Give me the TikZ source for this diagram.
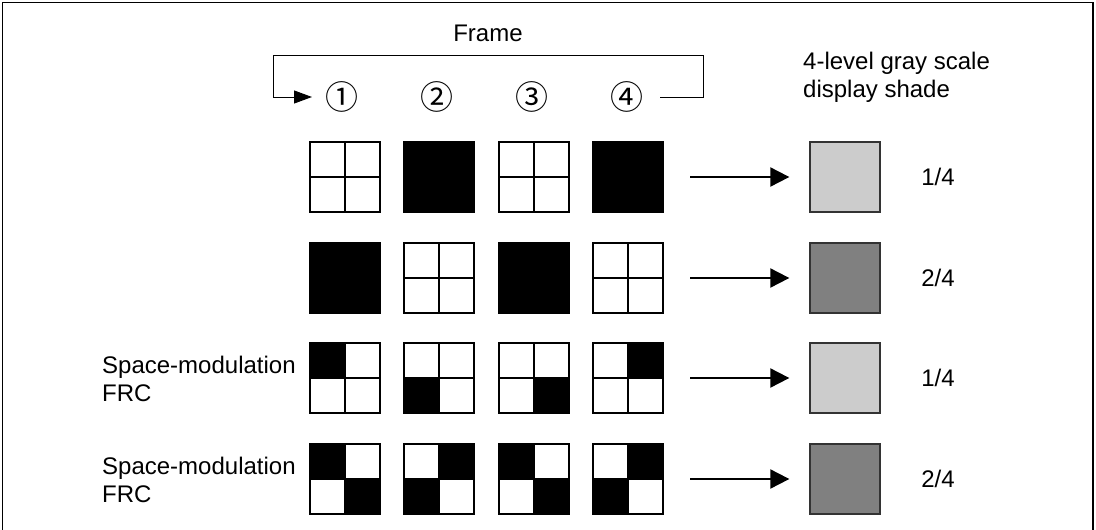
\documentclass[tikz,border=0pt]{standalone}
\usepackage{fontspec}
\setmainfont{Liberation Sans}
\newfontfamily\circfont{Noto Sans CJK JP}
\usetikzlibrary{arrows.meta}

\tikzset{
  sqline/.style={line width=1.5pt,draw=black},
  shade/.style={draw=black!80,line width=1.3pt,minimum size=70pt,inner sep=0pt},
  txt/.style={inner sep=0pt,align=left},
  toshade/.style={line width=2pt,-{Triangle[length=19pt,width=19pt]}}
}
% one 2x2 pixel block: top-left x,y and the fills TL TR BL BR (1 = black)
\newcommand{\pixblock}[6]{%
  \foreach \q/\dx/\dy in {#3/0/0,#4/35/0,#5/0/35,#6/35/35}{
    \ifnum\q=1 \fill (#1+\dx,#2+\dy) rectangle ++(35,35);\fi
  }
  \draw[sqline] (#1,#2) rectangle ++(70,70) (#1+35,#2) -- ++(0,70) (#1,#2+35) -- ++(70,0);
}

\begin{document}
\begin{tikzpicture}[x=1pt,y=-1pt,font=\fontsize{24}{28}\selectfont]
  \useasboundingbox (0,0) rectangle (1096,530);
  \draw[line width=1.6pt] (2.5,530) -- (2.5,2.5) -- (1093,2.5) -- (1093,530);
  % ---------------- frame header ----------------
  \node[txt] (frm) at (488,33) {Frame};
  \foreach \i/\xc/\g in {1/342/①,2/437/②,3/532/③,4/627/④}
    \node[inner sep=0pt,font=\circfont\fontsize{33}{36}\selectfont] (n\i) at (\xc,97) {\g};
  \draw[line width=1pt,-{Triangle[length=18pt,width=13pt]}]
    (660,97) -| (703,55) -| (273,97) -- (312,97);
  \node[txt,anchor=west] (hdr) at (803,77) {4-level gray scale\\display shade};
  % ---------------- pixel blocks ----------------
  \foreach \yt/\a/\b/\c/\d in {142/0/0/0/0, 243/1/1/1/1, 343/1/0/0/0, 444/1/0/0/1}
    \pixblock{310}{\yt}{\a}{\b}{\c}{\d};
  \foreach \yt/\a/\b/\c/\d in {142/1/1/1/1, 243/0/0/0/0, 343/0/0/1/0, 444/0/1/1/0}
    \pixblock{404}{\yt}{\a}{\b}{\c}{\d};
  \foreach \yt/\a/\b/\c/\d in {142/0/0/0/0, 243/1/1/1/1, 343/0/0/0/1, 444/1/0/0/1}
    \pixblock{499}{\yt}{\a}{\b}{\c}{\d};
  \foreach \yt/\a/\b/\c/\d in {142/1/1/1/1, 243/0/0/0/0, 343/0/1/0/0, 444/0/1/1/0}
    \pixblock{593}{\yt}{\a}{\b}{\c}{\d};
  % ---------------- resulting shades ----------------
  \foreach \r/\yc/\col/\fr in {1/177/black!20/1\slash 4, 2/278/black!50/2\slash 4,
                               3/378/black!20/1\slash 4, 4/479/black!50/2\slash 4}{
    \node[shade,fill=\col] (g\r) at (845,\yc) {};
    \node[txt] (f\r) at (938,\yc) {\fr};
    \coordinate (a\r) at (690,\yc);
    \draw[toshade] (a\r) -- ([xshift=-20pt]g\r.west);
  }
  \node[txt,anchor=west] (sm1) at (102,379) {Space-modulation\\FRC};
  \node[txt,anchor=west] (sm2) at (102,480) {Space-modulation\\FRC};
\end{tikzpicture}
\end{document}
